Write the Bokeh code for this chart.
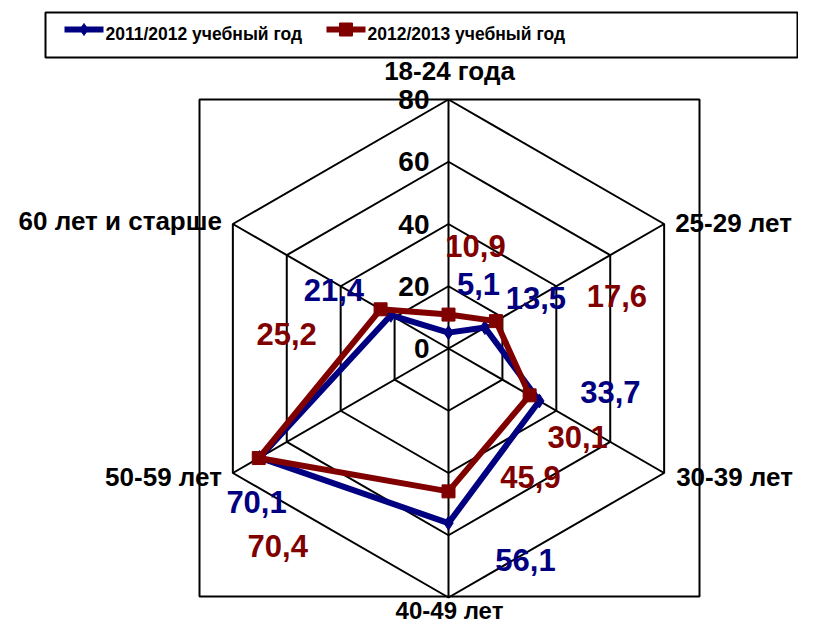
import numpy as np
from bokeh.plotting import figure
from bokeh.models import Range1d
from bokeh.core.properties import value
from bokeh.embed import file_html
from bokeh.resources import INLINE

# ---------------- data ----------------
categories = ["18-24 года", "25-29 лет", "30-39 лет", "40-49 лет", "50-59 лет", "60 лет и старше"]
series_names = ["2011/2012 учебный год", "2012/2013 учебный год"]
values_2011 = [5.1, 13.5, 33.7, 56.1, 70.1, 21.4]
values_2012 = [10.9, 17.6, 30.1, 45.9, 70.4, 25.2]
ticks = [0, 20, 40, 60, 80]
tick_labels = ["0", "20", "40", "60", "80"]
r_max = 80

# ---------------- layout (pixels) ----------------
W, H = 798, 623
CX, CY = 448, 348          # screen centre of radar
RPX = 249                  # pixels for r_max
S = RPX / r_max
FONT = "Liberation Sans"

def sx(px):
    return (px - CX) / S

def sy(py):
    return (CY - py) / S

def dx(d):
    return d / S

def dy(d):
    return -d / S

BLUE = "#000080"
RED = "#800000"

angles = np.deg2rad(90 - 60 * np.arange(len(categories)))

p = figure(width=W, height=H, output_backend="svg", toolbar_location=None,
           x_range=Range1d(sx(0), sx(W)), y_range=Range1d(sy(H), sy(0)),
           min_border=0, outline_line_color=None, background_fill_color="white",
           border_fill_color="white")
p.axis.visible = False
p.grid.visible = False

# plot area frame
p.quad(left=sx(199), right=sx(699), bottom=sy(596), top=sy(99),
       fill_color=None, line_color="black", line_width=2)

# rings
for t in ticks[1:]:
    xs = list(t * np.cos(angles)) + [t * np.cos(angles[0])]
    ys = list(t * np.sin(angles)) + [t * np.sin(angles[0])]
    p.line(xs, ys, line_color="black", line_width=2)
# spokes
for a in angles:
    p.line([0, r_max * np.cos(a)], [0, r_max * np.sin(a)], line_color="black", line_width=2)

# tick labels (along top spoke, right aligned left of it)
p.text(x=[dx(-19)] * len(ticks), y=ticks, text=tick_labels, text_align="right",
       text_baseline="middle", text_font=value(FONT), text_font_style="bold",
       text_font_size="28px", text_color="black")

# category labels
cat_off = [(1, -29, "center"), (11, -1, "left"), (12, 4, "left"),
           (1, 13, "center"), (-11, 4, "right"), (-11, -3, "right")]
cat_size = ["26px", "26px", "26px", "24px", "26px", "26px"]
for c, a, (ox, oy, al), fs in zip(categories, angles, cat_off, cat_size):
    p.text(x=[r_max * np.cos(a) + dx(ox)], y=[r_max * np.sin(a) + dy(oy)], text=[c],
           text_align=al, text_baseline="middle", text_font=value(FONT),
           text_font_style="bold", text_font_size=fs, text_color="black")

def fmt(v):
    return f"{v:.1f}".replace(".", ",")

lab_off_2011 = [(30, -49), (51, -29), (71, -9), (77, 37), (-3, 44), (-57, -25)]
lab_off_2012 = [(27, -69), (121, -25), (48, 42), (82, -14), (19, 88), (-94, 25)]

for vals, col, marker, msize, offs in [
        (values_2011, BLUE, "diamond", 14, lab_off_2011),
        (values_2012, RED, "square", 13, lab_off_2012)]:
    xs = [v * np.cos(a) for v, a in zip(vals, angles)]
    ys = [v * np.sin(a) for v, a in zip(vals, angles)]
    p.line(xs + [xs[0]], ys + [ys[0]], line_color=col, line_width=6, line_join="round")
    p.scatter(xs, ys, marker=marker, size=msize, fill_color=col, line_color=col)
    lx = [x + dx(o[0]) for x, o in zip(xs, offs)]
    ly = [y + dy(o[1]) for y, o in zip(ys, offs)]
    p.text(x=lx, y=ly, text=[fmt(v) for v in vals], text_align="center",
           text_baseline="middle", text_font=value(FONT), text_font_style="bold",
           text_font_size="31px", text_color=col)

# legend box
p.quad(left=sx(45), right=sx(W - 1), bottom=sy(57), top=sy(12),
       fill_color="white", line_color="black", line_width=2)
leg = [(64, BLUE, "diamond", 12), (326, RED, "square", 13)]
for (x0, col, mk, ms), name in zip(leg, series_names):
    p.line([sx(x0), sx(x0 + 39)], [sy(29), sy(29)], line_color=col, line_width=6)
    p.scatter([sx(x0 + 19.5)], [sy(29)], marker=mk, size=ms, fill_color=col, line_color=col)
    p.text(x=[sx(x0 + 41)], y=[sy(33)], text=[name], text_align="left",
           text_baseline="middle", text_font=value(FONT), text_font_style="bold",
           text_font_size="17.5px", text_color="black")

open("out.html", "w").write(file_html(p, INLINE))
